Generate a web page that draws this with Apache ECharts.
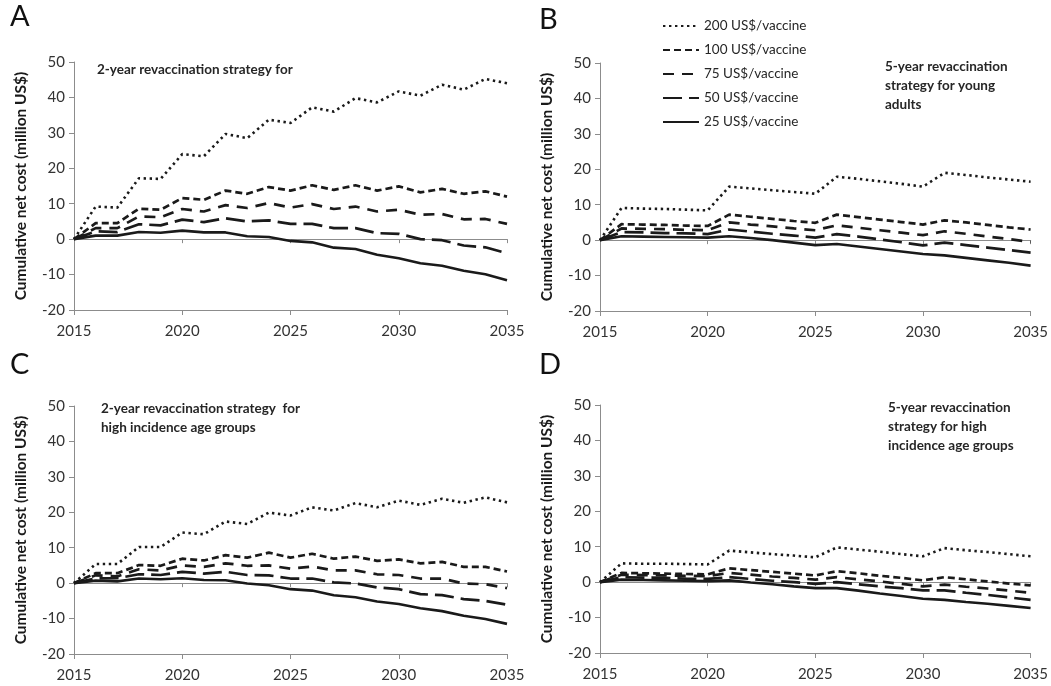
<!DOCTYPE html>
<html><head><meta charset="utf-8">
<script src="https://cdn.jsdelivr.net/npm/echarts@6/dist/echarts.min.js"></script>
<style>html,body{margin:0;padding:0;background:#fff}#c{width:1051px;height:686px}</style>
</head><body><div id="c"></div>
<script>
const years = [2015,2016,2017,2018,2019,2020,2021,2022,2023,2024,2025,2026,2027,2028,2029,2030,2031,2032,2033,2034,2035];
const seriesNames = ['200 US$/vaccine','100 US$/vaccine','75 US$/vaccine','50 US$/vaccine','25 US$/vaccine'];
const panelLetters = ['A','B','C','D'];
const yAxisTitle = 'Cumulative net cost (million US$)';

// Panel A: 2-year revaccination strategy for (young adults)
const A200 = [0, 9.2, 8.9, 17.2, 17.0, 24.0, 23.4, 29.7, 28.5, 33.7, 32.8, 37.2, 36.0, 39.8, 38.6, 41.7, 40.5, 43.6, 42.2, 45.2, 44.0];
const A100 = [0, 4.5, 4.5, 8.6, 8.3, 11.6, 11.1, 13.7, 12.8, 14.7, 13.7, 15.2, 13.9, 15.2, 13.7, 14.9, 13.2, 14.2, 12.8, 13.5, 12.0];
const A75  = [0, 3.1, 3.1, 6.4, 6.2, 8.5, 7.8, 9.6, 8.8, 10.2, 8.9, 9.9, 8.5, 9.2, 7.8, 8.3, 6.9, 7.1, 5.6, 5.7, 4.3];
const A50  = [0, 2.2, 2.0, 4.2, 3.9, 5.5, 4.8, 5.9, 5.0, 5.3, 4.3, 4.3, 3.1, 3.1, 1.7, 1.5, 0.0, -0.3, -1.8, -2.3, -4.0];
const A25  = [0, 1.0, 1.0, 2.0, 1.8, 2.4, 1.9, 1.9, 0.8, 0.6, -0.5, -0.9, -2.4, -2.8, -4.4, -5.4, -6.8, -7.5, -8.9, -9.9, -11.6];

// Panel B: 5-year revaccination strategy for young adults
const B200 = [0, 9.1, 8.9, 8.8, 8.6, 8.4, 15.1, 14.6, 14.1, 13.6, 13.1, 17.9, 17.3, 16.6, 15.9, 15.1, 19.0, 18.4, 17.7, 17.1, 16.5];
const B100 = [0, 4.5, 4.4, 4.3, 4.1, 4.0, 7.2, 6.6, 6.0, 5.4, 4.9, 7.2, 6.5, 5.8, 5.1, 4.4, 5.6, 5.0, 4.3, 3.6, 3.0];
const B75  = [0, 3.3, 3.2, 3.1, 2.9, 2.8, 5.0, 4.4, 3.9, 3.3, 2.8, 4.2, 3.5, 2.8, 2.1, 1.4, 2.5, 1.8, 1.0, 0.3, -0.5];
const B50  = [0, 2.3, 2.2, 2.0, 1.9, 1.7, 3.0, 2.4, 1.8, 1.3, 0.7, 1.7, 1.0, 0.2, -0.6, -1.5, -0.7, -1.4, -2.1, -2.8, -3.5];
const B25  = [0, 1.1, 1.0, 0.9, 0.8, 0.7, 1.1, 0.6, 0.0, -0.7, -1.4, -1.1, -1.8, -2.5, -3.2, -3.9, -4.3, -5.0, -5.7, -6.4, -7.2];

// Panel C: 2-year revaccination strategy for high incidence age groups
const C200 = [0, 5.4, 5.4, 10.2, 10.2, 14.3, 13.8, 17.4, 16.7, 19.9, 19.1, 21.4, 20.5, 22.6, 21.4, 23.3, 22.1, 23.8, 22.7, 24.2, 22.8];
const C100 = [0, 2.8, 2.8, 5.1, 4.9, 6.9, 6.4, 7.9, 7.2, 8.6, 7.2, 8.3, 6.9, 7.5, 6.3, 6.7, 5.6, 6.0, 4.6, 4.6, 3.3];
const C75  = [0, 2.2, 1.9, 3.9, 3.6, 5.0, 4.6, 5.6, 4.9, 5.0, 4.1, 4.7, 3.6, 3.6, 2.5, 2.3, 1.3, 1.3, -0.1, -0.3, -1.4];
const C50  = [0, 1.3, 1.4, 2.5, 2.3, 3.2, 2.7, 3.2, 2.3, 2.2, 1.3, 1.3, 0.2, -0.1, -1.2, -1.7, -3.1, -3.4, -4.5, -5.0, -6.1];
const C25  = [0, 0.7, 0.5, 1.3, 1.1, 1.4, 0.9, 0.8, -0.1, -0.6, -1.7, -2.1, -3.4, -4.0, -5.2, -5.9, -7.1, -7.9, -9.2, -10.1, -11.5];

// Panel D: 5-year revaccination strategy for high incidence age groups
const D200 = [0, 5.3, 5.2, 5.2, 5.1, 5.0, 8.9, 8.4, 7.9, 7.5, 7.0, 9.8, 9.2, 8.6, 7.9, 7.3, 9.6, 9.0, 8.5, 7.9, 7.3];
const D100 = [0, 2.6, 2.5, 2.4, 2.3, 2.2, 3.9, 3.4, 2.9, 2.4, 1.9, 3.1, 2.5, 1.8, 1.2, 0.5, 1.4, 0.8, 0.2, -0.4, -0.9];
const D75  = [0, 2.1, 2.0, 1.9, 1.8, 1.7, 2.6, 2.1, 1.6, 1.2, 0.7, 1.4, 0.8, 0.2, -0.5, -1.2, -0.7, -1.3, -1.8, -2.4, -3.0];
const D50  = [0, 1.4, 1.3, 1.2, 1.0, 0.9, 1.4, 0.9, 0.4, 0.0, -0.5, 0.0, -0.6, -1.2, -1.7, -2.3, -2.3, -3.0, -3.6, -4.3, -5.0];
const D25  = [0, 0.7, 0.6, 0.5, 0.4, 0.3, 0.5, -0.1, -0.6, -1.2, -1.7, -1.7, -2.4, -3.2, -3.9, -4.7, -5.0, -5.6, -6.1, -6.7, -7.3];

const panelTitles = [
  '2-year revaccination strategy for',
  '5-year revaccination\nstrategy for young\nadults',
  '2-year revaccination strategy  for\nhigh incidence age groups',
  '5-year revaccination\nstrategy for high\nincidence age groups'
];

const panelData = [[A200,A100,A75,A50,A25],[B200,B100,B75,B50,B25],[C200,C100,C75,C50,C25],[D200,D100,D75,D50,D25]];

const FONT = 'Lato, "Open Sans", sans-serif';
const LINE = '#1a1a1a';
const AXIS = '#8c8c8c';
const styles = [
  {width: 2.6, type: [2.4, 3.6]},
  {width: 2.7, type: [7, 4]},
  {width: 2.7, type: [11, 8]},
  {width: 2.7, type: [19, 7]},
  {width: 2.6, type: 'solid'}
];

const grids = [
  {left: 74, top: 62, width: 433, height: 248},
  {left: 600, top: 63, width: 433, height: 248},
  {left: 74, top: 406, width: 433, height: 248},
  {left: 600, top: 405, width: 433, height: 248}
];

const xAxes = [], yAxes = [], series = [];
grids.forEach((g, i) => {
  xAxes.push({
    gridIndex: i, type: 'value', min: 2015, max: 2035, interval: 5, position: 'bottom',
    axisLine: {onZero: false, lineStyle: {color: AXIS, width: 1}},
    axisTick: {show: true, length: 5, lineStyle: {color: AXIS}},
    axisLabel: {color: '#333', fontSize: 15, fontFamily: FONT, margin: 14, formatter: v => String(v)},
    splitLine: {show: false}
  });
  xAxes.push({
    gridIndex: i, type: 'value', min: 2015, max: 2035, interval: 5, position: 'bottom',
    axisLine: {onZero: true, lineStyle: {color: AXIS, width: 1.2}},
    axisTick: {show: true, length: 4, lineStyle: {color: AXIS}},
    axisLabel: {show: false}, splitLine: {show: false}
  });
  yAxes.push({
    gridIndex: i, type: 'value', min: -20, max: 50, interval: 10,
    name: yAxisTitle, nameLocation: 'middle', nameGap: 45,
    nameTextStyle: {fontSize: 15.5, fontWeight: 'bold', fontFamily: FONT, color: '#1a1a1a'},
    axisLine: {show: true, lineStyle: {color: AXIS, width: 1}},
    axisTick: {show: true, length: 5, lineStyle: {color: AXIS}},
    axisLabel: {color: '#333', fontSize: 15, fontFamily: FONT, margin: 9},
    splitLine: {show: false}
  });
  panelData[i].forEach((arr, k) => {
    series.push({
      name: seriesNames[k], type: 'line', xAxisIndex: i * 2, yAxisIndex: i,
      data: years.map((y, j) => [y, arr[j]]),
      symbol: 'none', smooth: false, silent: true,
      lineStyle: {color: LINE, width: styles[k].width, type: styles[k].type},
      itemStyle: {color: LINE},
      z: 3 + k
    });
  });
});

const letterPos = [[10, 2], [539, 5], [10, 350], [539, 350]];
const titlePos = [[97, 60], [885, 57], [101, 399], [888, 398]];
const graphic = [];
panelLetters.forEach((L, i) => {
  graphic.push({type: 'text', left: letterPos[i][0], top: letterPos[i][1],
    style: {text: L, font: '29px ' + FONT, fill: '#111'}});
  graphic.push({type: 'text', left: titlePos[i][0], top: titlePos[i][1],
    style: {text: panelTitles[i], font: 'bold 13.5px ' + FONT, fill: '#262626', lineHeight: 19}});
});

const chart = echarts.init(document.getElementById('c'), null, {renderer: 'canvas'});
chart.setOption({
  animation: false,
  backgroundColor: '#fff',
  grid: grids,
  xAxis: xAxes,
  yAxis: yAxes,
  series: series,
  legend: {
    data: seriesNames, orient: 'vertical', left: 657, top: 14,
    itemWidth: 36, itemHeight: 14, itemGap: 10, itemStyle: {opacity: 0},
    textStyle: {fontSize: 13.5, fontFamily: FONT, color: '#262626'},
    selectedMode: false
  },
  graphic: graphic
});
</script></body></html>
